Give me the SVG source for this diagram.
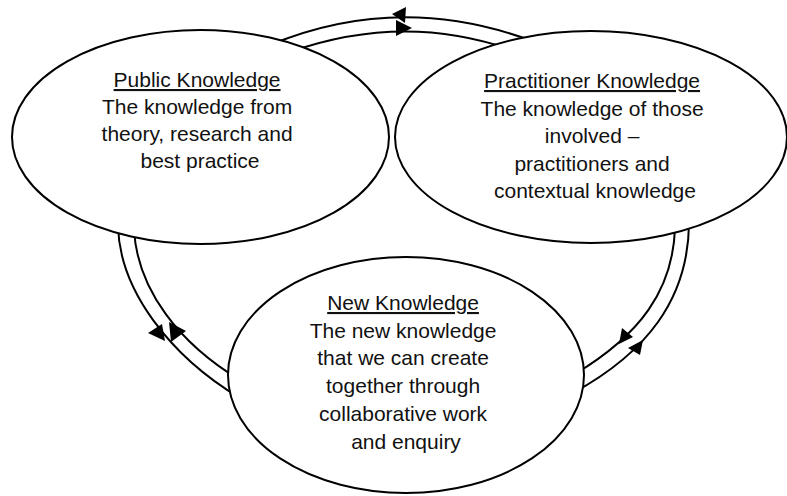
<svg xmlns="http://www.w3.org/2000/svg" width="787" height="496" viewBox="0 0 787 496">
  <style>
    .arc { fill: none; stroke: #000; stroke-width: 2; }
    .head { fill: #000; stroke: none; }
    .node { fill: #fff; stroke: #000; stroke-width: 2; }
    .label { font-family: "Liberation Sans", Arial, sans-serif; font-size: 21px; fill: #111; text-anchor: middle; }
    .title { text-decoration: underline; }
  </style>
  <rect width="787" height="496" fill="#fff"/>

  <!-- double arcs linking the three knowledge areas -->
  <g id="connectors">
    <!-- top: Public <-> Practitioner -->
    <path class="arc" d="M270,45 Q400,-9 535,42"/>
    <path class="arc" d="M290,52 Q403,12 512,50"/>
    <polygon class="head" points="392,14 406,7 405,23"/>
    <polygon class="head" points="396,20 396,36 412,28"/>
    <!-- left: Public <-> New -->
    <path class="arc" d="M118,225 C119,290 170,356 240,398"/>
    <path class="arc" d="M134,229 C137,290 180,344 240,380"/>
    <polygon class="head" points="148,333 162,324 165,341"/>
    <polygon class="head" points="169,322 171,342 186,331"/>
    <!-- right: Practitioner <-> New -->
    <path class="arc" d="M675,228 C673,290 640,335 575,374"/>
    <path class="arc" d="M689,224 C688,300 646,353 573,393"/>
    <polygon class="head" points="619,344 633,337 622,328"/>
    <polygon class="head" points="643,340 640,355 628,348"/>
  </g>

  <g id="public-knowledge">
    <ellipse class="node" cx="200.5" cy="137" rx="188.5" ry="107"/>
    <text class="label" x="200" y="87">
      <tspan class="title" x="200" y="87">Public Knowledge</tspan>
      <tspan x="200" y="114">The knowledge from</tspan>
      <tspan x="200" y="141">theory, research and</tspan>
      <tspan x="200" y="168">best practice</tspan>
    </text>
  </g>

  <g id="practitioner-knowledge">
    <ellipse class="node" cx="591" cy="137" rx="196" ry="106"/>
    <text class="label" x="595" y="88">
      <tspan class="title" x="595" y="88">Practitioner Knowledge</tspan>
      <tspan x="595" y="115.5">The knowledge of those</tspan>
      <tspan x="595" y="143">involved –</tspan>
      <tspan x="595" y="170.5">practitioners and</tspan>
      <tspan x="595" y="198">contextual knowledge</tspan>
    </text>
  </g>

  <g id="new-knowledge">
    <ellipse class="node" cx="406" cy="375" rx="178" ry="118"/>
    <text class="label" x="406" y="310">
      <tspan class="title" x="406" y="310">New Knowledge</tspan>
      <tspan x="406" y="337.7">The new knowledge</tspan>
      <tspan x="406" y="365.4">that we can create</tspan>
      <tspan x="406" y="393.1">together through</tspan>
      <tspan x="406" y="420.8">collaborative work</tspan>
      <tspan x="406" y="448.5">and enquiry</tspan>
    </text>
  </g>
</svg>
